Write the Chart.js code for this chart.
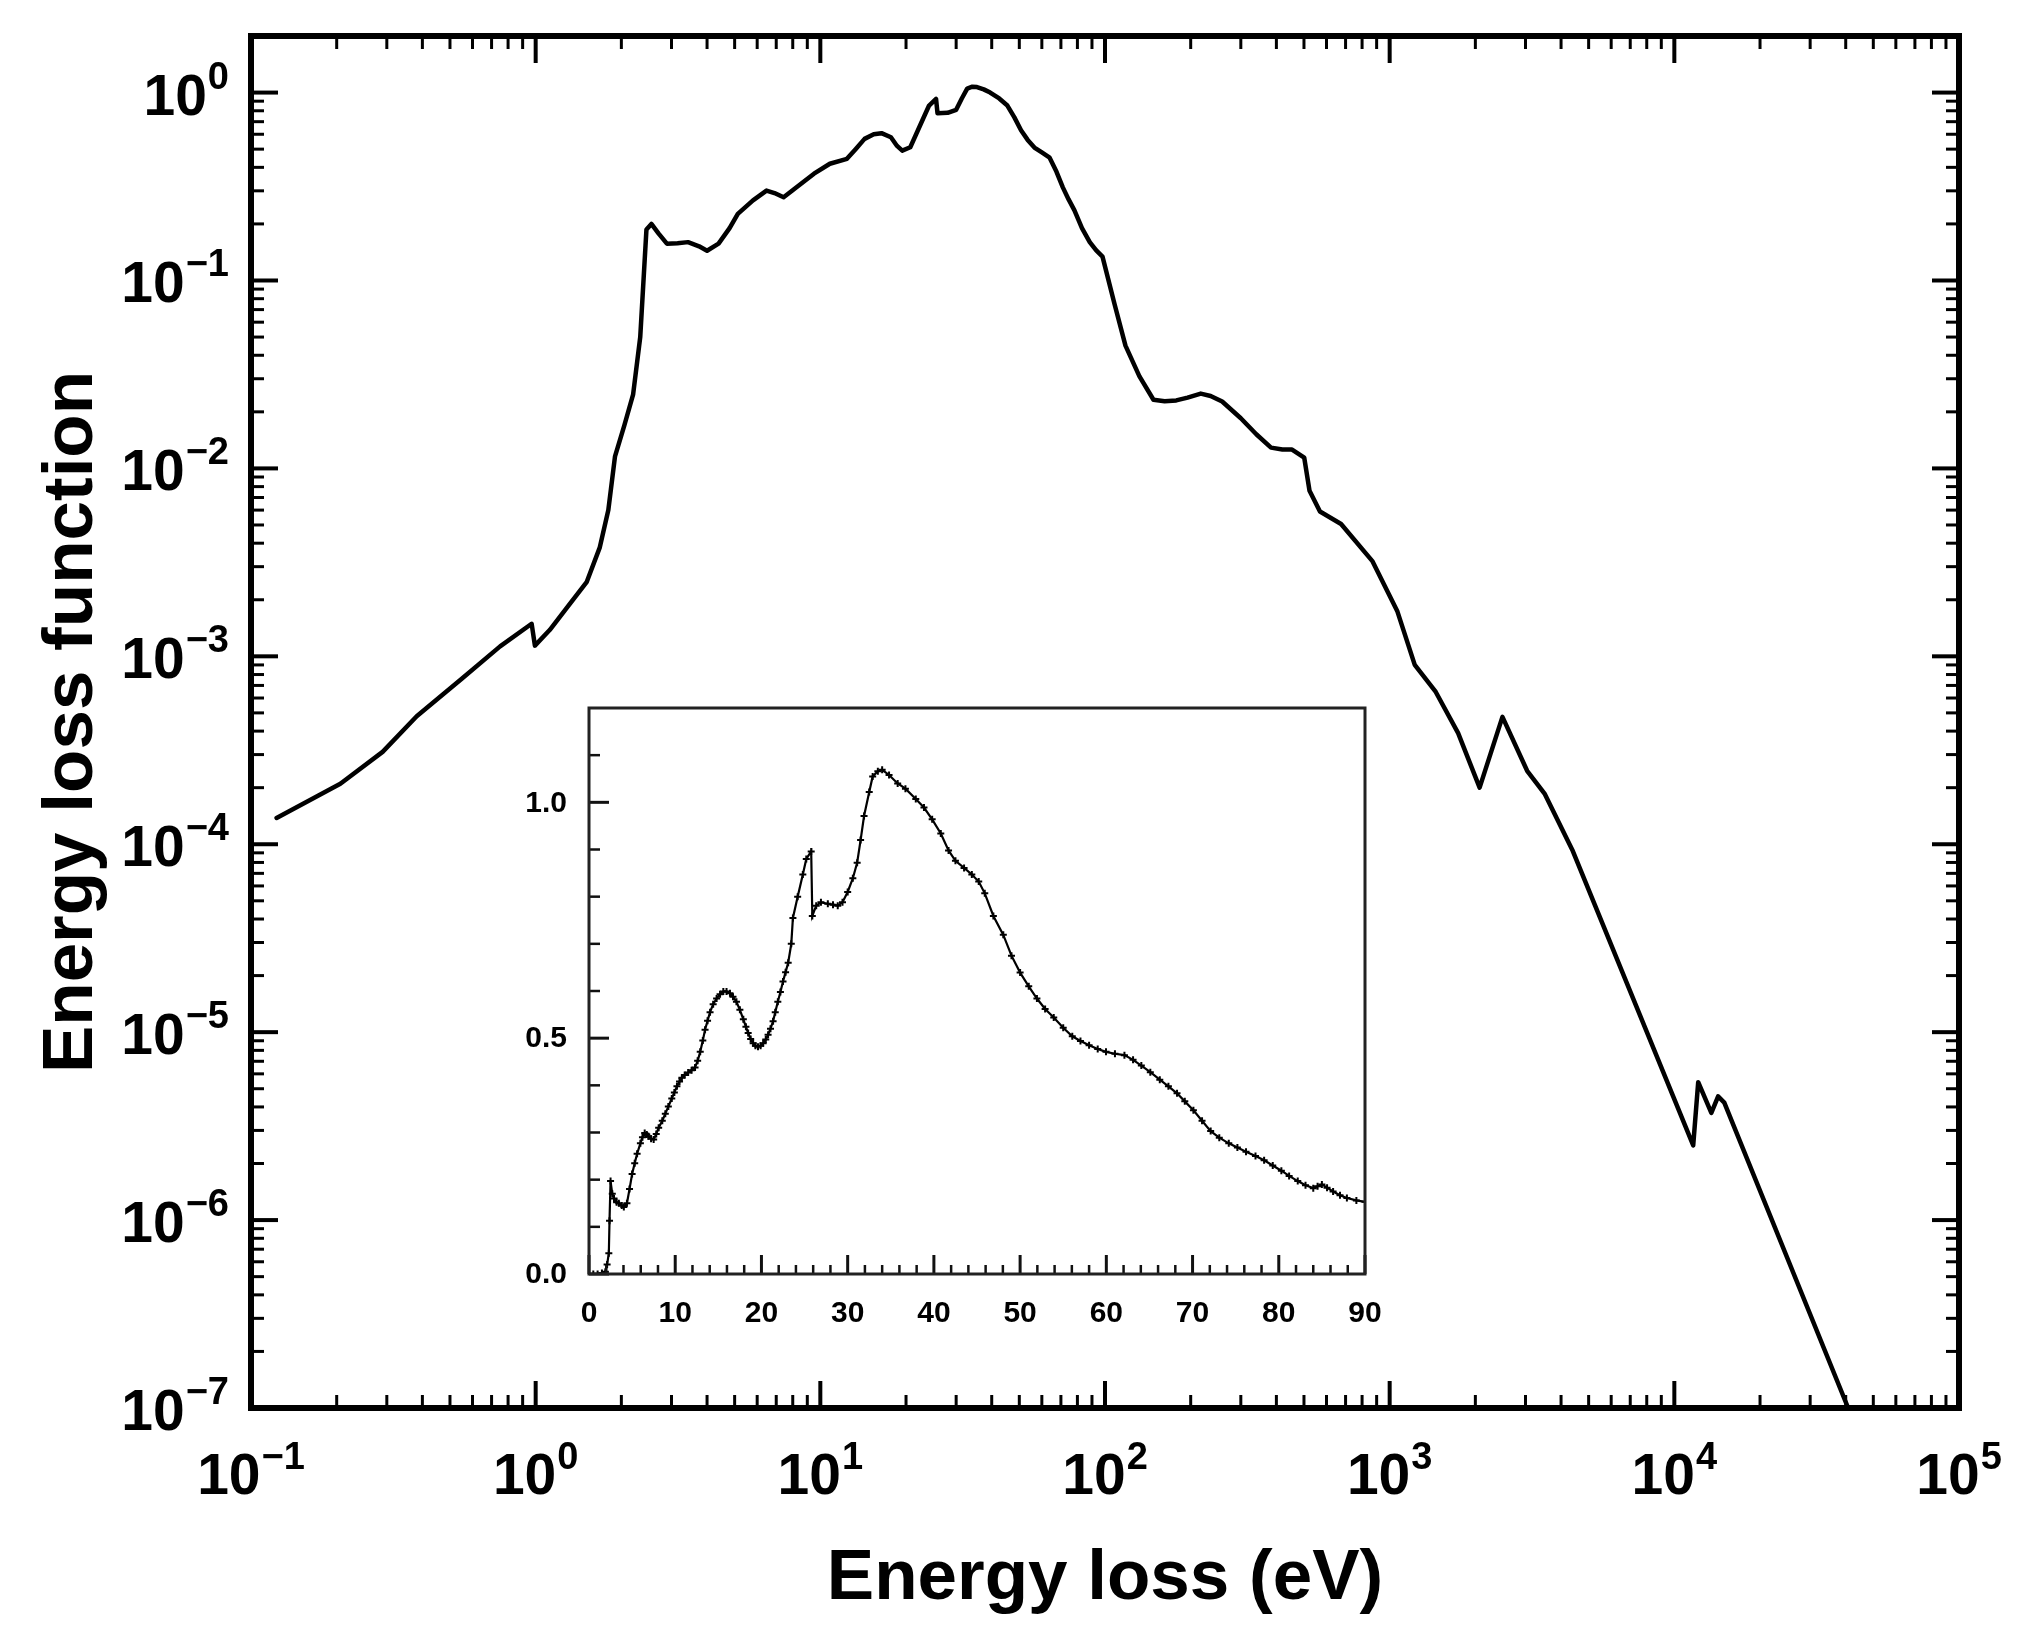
<!DOCTYPE html>
<html>
<head>
<meta charset="utf-8">
<script src="https://cdn.jsdelivr.net/npm/chart.js@4.4.1/dist/chart.umd.min.js"></script>
<style>
html,body{margin:0;padding:0;background:#ffffff;}
#wrap{position:relative;width:2039px;height:1637px;background:#ffffff;}
#wrap canvas{position:absolute;left:0;top:0;}
</style>
</head>
<body>
<div id="wrap">
<canvas id="mainChart" width="2039" height="1637"></canvas>
<canvas id="insetChart" width="2039" height="1637"></canvas>
</div>
<script>
// ---- Main plot data (log-log) ----
const mainEnergy = [0.123, 0.206, 0.29, 0.382, 0.55, 0.75, 0.968, 0.994, 1.12, 1.3, 1.51, 1.68, 1.80, 1.90, 2.05, 2.20, 2.33, 2.45, 2.55,
  2.7, 2.89, 3.15, 3.43, 3.75, 4.0, 4.39, 4.8, 5.13, 5.8, 6.47, 6.9, 7.43, 8.4, 9.5, 10.8, 12.4, 13.3, 14.3, 15.4, 16.4, 17.7, 18.6, 19.4, 20.7, 22, 23.0, 24.1, 25.5, 25.8,
  28.0, 30, 31.4, 32.8, 34.2, 35.5, 37.5, 39.5, 42.5, 45.4, 48.0, 50.7, 53.5, 56.5, 60.0, 63.9, 67.5, 71.1, 74.5, 78.1, 83.0, 88.4, 93.0, 98, 108, 118, 132, 148, 162, 178, 195, 217, 235, 258, 300, 340, 383, 420, 454, 501, 523,
  569, 675, 871, 1065, 1225, 1452, 1740, 2070, 2490, 3040, 3500, 4400, 11650, 12130, 13490, 14250, 14980, 40800];
const mainELF = [1.38e-4, 2.1e-4, 3.1e-4, 4.8e-4, 7.6e-4, 1.13e-3, 1.49e-3, 1.14e-3, 1.38e-3, 1.85e-3, 2.48e-3, 3.8e-3, 6.0e-3, 1.16e-2, 1.7e-2, 2.48e-2, 5.0e-2, 0.187, 0.2,
  0.178, 0.157, 0.158, 0.16, 0.152, 0.144, 0.157, 0.19, 0.226, 0.267, 0.301, 0.292, 0.277, 0.32, 0.37, 0.418, 0.444, 0.5, 0.567, 0.6, 0.608, 0.578, 0.52, 0.491, 0.512, 0.628, 0.73, 0.853, 0.925, 0.776,
  0.78, 0.81, 0.93, 1.05, 1.075, 1.07, 1.04, 1.0, 0.93, 0.853, 0.74, 0.63, 0.56, 0.51, 0.48, 0.45, 0.38, 0.313, 0.27, 0.236, 0.19, 0.16, 0.145, 0.134, 0.075, 0.045, 0.031, 0.0232, 0.0228, 0.023, 0.0238, 0.025, 0.0243, 0.0227, 0.0185, 0.0152, 0.0129, 0.0126, 0.0126, 0.0114, 7.6e-3,
  5.9e-3, 5.06e-3, 3.2e-3, 1.73e-3, 9.0e-4, 6.46e-4, 3.9e-4, 2.0e-4, 4.76e-4, 2.46e-4, 1.86e-4, 9.2e-5, 2.5e-6, 5.42e-6, 3.72e-6, 4.55e-6, 4.22e-6, 1.0e-7];

// ---- Inset data (linear) ----
const insetEnergy = [0.5, 1.0, 1.5, 1.9, 2.1, 2.3, 2.38, 2.5, 2.7, 2.9, 3.2, 3.46, 3.8, 4.04, 4.4, 4.7, 5.0, 5.3, 5.58, 5.96,
  6.2, 6.46, 6.7, 6.9, 7.2, 7.5, 7.8, 8.08, 8.5, 8.85, 9.2, 9.6, 9.9, 10.2, 10.5, 10.77, 11.1, 11.5, 11.9, 12.3,
  12.6, 12.9, 13.2, 13.46, 13.75, 14.04, 14.4, 14.8, 15.2, 15.58, 15.95, 16.35, 16.7, 17.1, 17.5, 17.9, 18.2, 18.46, 18.75, 19.04,
  19.3, 19.6, 19.9, 20.2, 20.5, 20.77, 21.05, 21.35, 21.6, 21.9, 22.2, 22.5, 22.8, 23.1, 23.46, 23.65, 24.2, 24.8, 25.2, 25.77,
  25.9, 26.35, 26.9, 27.7, 28.3, 28.85, 29.4, 30.0, 30.6, 31.1, 31.5, 31.9, 32.5, 32.9, 33.5, 34.0, 34.8, 35.8, 36.7, 37.9,
  38.85, 39.8, 40.8, 41.7, 42.5, 43.5, 44.4, 45.2, 45.9, 46.9, 48.05, 49.0, 50.0, 51.0, 51.95, 52.9, 53.9, 55.0, 56.05, 57.0,
  58.0, 59.0, 59.96, 61.0, 62.1, 63.1, 64.06, 65.1, 66.2, 67.2, 68.2, 69.1, 70.1, 71.1, 72.1, 73.1, 74.2, 75.2, 76.2, 77.3,
  78.3, 79.3, 80.3, 81.2, 82.2, 83.1, 84.0, 84.5, 85.0, 85.6, 86.3, 87.1, 87.9, 89.0, 90.0];
const insetELF = [0, 0, 0.002, 0.005, 0.02, 0.044, 0.113, 0.197, 0.17, 0.16, 0.152, 0.15, 0.145, 0.142, 0.15, 0.18, 0.212, 0.235, 0.255, 0.277,
  0.29, 0.299, 0.296, 0.292, 0.287, 0.285, 0.297, 0.31, 0.325, 0.34, 0.355, 0.372, 0.385, 0.398, 0.408, 0.416, 0.422, 0.427, 0.432, 0.438,
  0.452, 0.471, 0.495, 0.518, 0.537, 0.555, 0.572, 0.584, 0.593, 0.599, 0.599, 0.595, 0.588, 0.577, 0.56, 0.54, 0.524, 0.511, 0.498, 0.489,
  0.484, 0.482, 0.484, 0.489, 0.497, 0.507, 0.52, 0.536, 0.555, 0.577, 0.598, 0.62, 0.64, 0.66, 0.7, 0.755, 0.8, 0.847, 0.88, 0.896,
  0.759, 0.781, 0.788, 0.785, 0.783, 0.781, 0.788, 0.81, 0.839, 0.872, 0.92, 0.971, 1.022, 1.055, 1.066, 1.069, 1.058, 1.04, 1.029, 1.007,
  0.989, 0.964, 0.934, 0.898, 0.876, 0.861, 0.847, 0.832, 0.807, 0.759, 0.719, 0.675, 0.639, 0.61, 0.584, 0.562, 0.544, 0.522, 0.504, 0.494,
  0.485, 0.477, 0.471, 0.467, 0.464, 0.454, 0.442, 0.428, 0.412, 0.398, 0.383, 0.366, 0.347, 0.325, 0.303, 0.289, 0.277, 0.268, 0.259, 0.25,
  0.241, 0.23, 0.219, 0.208, 0.197, 0.188, 0.182, 0.186, 0.19, 0.183, 0.175, 0.167, 0.161, 0.156, 0.153];

// ---- Tick labels ----
const mainXExponents = [-1, 0, 1, 2, 3, 4, 5];
const mainYExponents = [-7, -6, -5, -4, -3, -2, -1, 0];
const insetXTicks = [0, 10, 20, 30, 40, 50, 60, 70, 80, 90];
const insetYTicks = [0.0, 0.5, 1.0];
const xTitle = 'Energy loss (eV)';
const yTitle = 'Energy loss function';

const FONT = '"Liberation Sans", Arial, Helvetica, sans-serif';

function seg(ctx, x1, y1, x2, y2) {
  ctx.beginPath(); ctx.moveTo(x1, y1); ctx.lineTo(x2, y2); ctx.stroke();
}
function supText(e) { return e < 0 ? '\u2212' + Math.abs(e) : String(e); }

const mainFrame = {
  id: 'mainFrame',
  afterDraw(chart) {
    const ctx = chart.ctx, a = chart.chartArea, xs = chart.scales.x, ys = chart.scales.y;
    ctx.save();
    ctx.strokeStyle = '#000';
    ctx.lineCap = 'butt';
    for (let e = -1; e <= 4; e++) {
      for (let m = 1; m <= 9; m++) {
        const v = m * Math.pow(10, e);
        const px = xs.getPixelForValue(v);
        if (px < a.left - 0.5 || px > a.right + 0.5) continue;
        const major = m === 1;
        const L = major ? 27 : 13;
        ctx.lineWidth = major ? 4 : 3;
        seg(ctx, px, a.bottom, px, a.bottom - L);
        seg(ctx, px, a.top, px, a.top + L);
      }
    }
    for (let e = -7; e <= 0; e++) {
      for (let m = 1; m <= 9; m++) {
        const v = m * Math.pow(10, e);
        const py = ys.getPixelForValue(v);
        if (py < a.top + 2 || py > a.bottom + 0.5) continue;
        const major = m === 1;
        const L = major ? 27 : 13;
        ctx.lineWidth = major ? 4 : 3;
        seg(ctx, a.left, py, a.left + L, py);
        seg(ctx, a.right, py, a.right - L, py);
      }
    }
    ctx.lineWidth = 6;
    ctx.strokeRect(a.left, a.top, a.right - a.left, a.bottom - a.top);

    ctx.fillStyle = '#000';
    const bigF = 'bold 57px ' + FONT, supF = 'bold 38px ' + FONT;
    mainYExponents.forEach(e => {
      const py = ys.getPixelForValue(Math.pow(10, e));
      const s = supText(e);
      ctx.font = supF;
      const sw = ctx.measureText(s).width;
      const right = a.left - 22;
      ctx.textAlign = 'left'; ctx.textBaseline = 'alphabetic';
      ctx.fillText(s, right - sw, py - 4);
      ctx.font = bigF;
      ctx.textAlign = 'right';
      ctx.fillText('10', right - sw - 1, py + 22);
    });
    mainXExponents.forEach(e => {
      const px = xs.getPixelForValue(Math.pow(10, e));
      const s = supText(e);
      ctx.font = supF;
      const sw = ctx.measureText(s).width;
      ctx.font = bigF;
      const mw = ctx.measureText('10').width;
      const left = px - (mw + sw + 1) / 2;
      ctx.textAlign = 'left'; ctx.textBaseline = 'alphabetic';
      ctx.fillText('10', left, a.bottom + 86);
      ctx.font = supF;
      ctx.fillText(s, left + mw + 1, a.bottom + 61);
    });
    ctx.font = 'bold 71px ' + FONT;
    ctx.textAlign = 'center'; ctx.textBaseline = 'alphabetic';
    ctx.fillText(xTitle, (a.left + a.right) / 2, 1599);
    ctx.save();
    ctx.translate(92, (a.top + a.bottom) / 2);
    ctx.rotate(-Math.PI / 2);
    ctx.fillText(yTitle, 0, 0);
    ctx.restore();
    ctx.restore();
  }
};

new Chart(document.getElementById('mainChart'), {
  type: 'line',
  data: {
    datasets: [{
      data: mainEnergy.map((e, i) => ({ x: e, y: mainELF[i] })),
      borderColor: '#000',
      borderWidth: 4.5,
      pointRadius: 0,
      fill: false,
      tension: 0,
      borderJoinStyle: 'round',
      borderCapStyle: 'round'
    }]
  },
  options: {
    responsive: false,
    devicePixelRatio: 1,
    animation: false,
    events: [],
    layout: { padding: { left: 251, right: 80, top: 36, bottom: 229 } },
    plugins: { legend: { display: false }, tooltip: { enabled: false }, title: { display: false } },
    scales: {
      x: { type: 'logarithmic', min: 0.1, max: 1e5, bounds: 'data', display: false },
      y: { type: 'logarithmic', min: 1e-7, max: 2, bounds: 'data', display: false }
    }
  },
  plugins: [mainFrame]
});

const insetFrame = {
  id: 'insetFrame',
  beforeDraw(chart) {
    const ctx = chart.ctx, a = chart.chartArea;
    ctx.save();
    ctx.fillStyle = '#fff';
    ctx.fillRect(a.left, a.top, a.right - a.left, a.bottom - a.top);
    ctx.restore();
  },
  afterDraw(chart) {
    const ctx = chart.ctx, a = chart.chartArea, xs = chart.scales.x, ys = chart.scales.y;
    ctx.save();
    ctx.strokeStyle = '#111';
    ctx.lineCap = 'butt';
    for (let v = 0; v <= 90; v += 2) {
      const px = xs.getPixelForValue(v);
      const major = v % 10 === 0;
      ctx.lineWidth = major ? 3 : 2.5;
      seg(ctx, px, a.bottom, px, a.bottom - (major ? 19 : 9));
    }
    for (let i = 0; i <= 11; i++) {
      const v = i / 10;
      const py = ys.getPixelForValue(v);
      const major = i % 5 === 0;
      ctx.lineWidth = major ? 3 : 2.5;
      seg(ctx, a.left, py, a.left + (major ? 20 : 11), py);
    }
    ctx.lineWidth = 3;
    ctx.strokeStyle = '#222';
    ctx.strokeRect(a.left, a.top, a.right - a.left, a.bottom - a.top);

    ctx.fillStyle = '#000';
    ctx.font = 'bold 30px ' + FONT;
    ctx.textAlign = 'right'; ctx.textBaseline = 'middle';
    insetYTicks.forEach(v => {
      ctx.fillText(v.toFixed(1), a.left - 22, ys.getPixelForValue(v) + 1);
    });
    ctx.textAlign = 'center'; ctx.textBaseline = 'alphabetic';
    insetXTicks.forEach(v => {
      ctx.fillText(String(v), xs.getPixelForValue(v), a.bottom + 48);
    });
    ctx.restore();
  }
};

new Chart(document.getElementById('insetChart'), {
  type: 'line',
  data: {
    datasets: [{
      data: insetEnergy.map((e, i) => ({ x: e, y: insetELF[i] })),
      borderColor: '#000',
      borderWidth: 2.2,
      pointStyle: 'cross',
      pointRadius: 3.5,
      pointBorderWidth: 2,
      pointBorderColor: '#000',
      pointBackgroundColor: '#000',
      fill: false,
      tension: 0
    }]
  },
  options: {
    responsive: false,
    devicePixelRatio: 1,
    animation: false,
    events: [],
    layout: { padding: { left: 589, right: 674, top: 708, bottom: 363 } },
    plugins: { legend: { display: false }, tooltip: { enabled: false }, title: { display: false } },
    scales: {
      x: { type: 'linear', min: 0, max: 90, bounds: 'data', display: false },
      y: { type: 'linear', min: 0, max: 1.2, bounds: 'data', display: false }
    }
  },
  plugins: [insetFrame]
});
</script>
</body>
</html>
